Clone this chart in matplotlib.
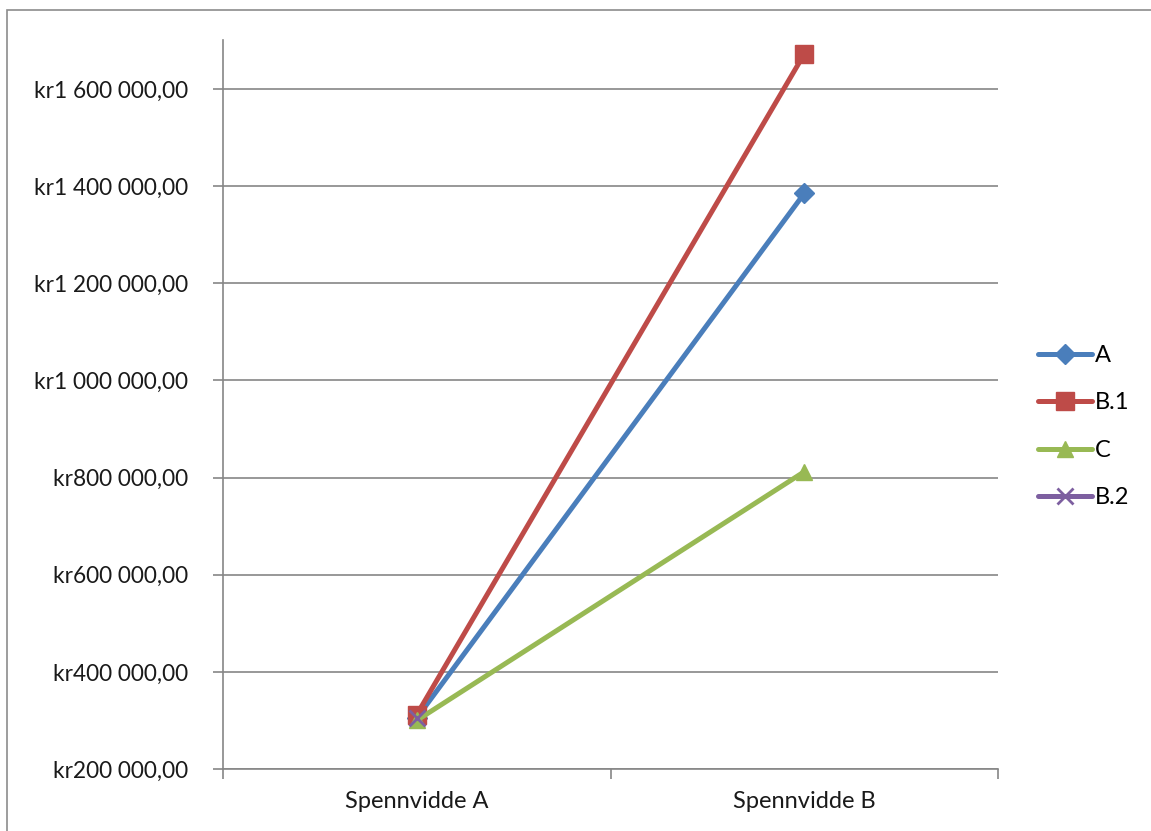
import matplotlib
matplotlib.use("Agg")
import matplotlib.pyplot as plt
from matplotlib.patches import Rectangle
import numpy as np

categories = ["Spennvidde A", "Spennvidde B"]
series_names = ["A", "B.1", "C", "B.2"]
vals_A = [305000, 1385000]
vals_B1 = [312000, 1672000]
vals_C = [300000, 812000]
vals_B2 = [306000, np.nan]
colors = ["#4A7EBB", "#BE4B48", "#98B954", "#7D5FA0"]
markers = ["D", "s", "^", "x"]
msizes = [10, 13, 12, 12]
yticks = [200000, 400000, 600000, 800000, 1000000, 1200000, 1400000, 1600000]

def fmt(v):
    s = f"{int(v):,}".replace(",", " ")
    return f"kr{s},00"

plt.rcParams['font.family'] = ['Lato', 'DejaVu Sans']
fig = plt.figure(figsize=(11.51, 8.31), dpi=100)
fig.patches.append(Rectangle((7/1151, -0.1), 1.2, 1 - 10/831 + 0.1, transform=fig.transFigure,
                             fill=False, edgecolor="#8C8C8C", linewidth=1.2))
ax = fig.add_axes([223/1151, 1 - 769/831, (998 - 223)/1151, (769 - 40.4)/831])

x = np.array([0.5, 1.5])
for name, vals, c, m, ms in zip(series_names, [vals_A, vals_B1, vals_C, vals_B2], colors, markers, msizes):
    mew = 2 if m == "x" else 1
    ax.plot(x, vals, color=c, lw=3.6, marker=m, markersize=ms, markeredgewidth=mew,
            markeredgecolor=c, markerfacecolor=c, label=name, solid_capstyle="round")

ax.set_xlim(0, 2)
ax.set_ylim(200000, 1700000)
ax.set_yticks(yticks)
ax.set_yticklabels([fmt(v) for v in yticks], fontsize=16.3, color="#1a1a1a")
ax.set_xticks([0.5, 1.5])
ax.set_xticklabels(categories, fontsize=17, color="#1a1a1a")
ax.set_xticks([0, 1, 2], minor=True)
ax.tick_params(axis="x", which="major", length=0, pad=16)
ax.tick_params(axis="x", which="minor", length=7, color="#868686", width=1.2)
ax.tick_params(axis="y", length=7, color="#868686", width=1.2, pad=18)
ax.grid(axis="y", color="#868686", lw=1.2)
ax.set_axisbelow(True)
for s in ["top", "right"]:
    ax.spines[s].set_visible(False)
for s in ["left", "bottom"]:
    ax.spines[s].set_color("#868686")
    ax.spines[s].set_linewidth(1.2)

leg = ax.legend(loc="center left", bbox_to_anchor=(1.024, 0.47), frameon=False, fontsize=17,
                handlelength=2.3, labelspacing=1.12, handletextpad=0.1)
fig.savefig("out.png", dpi=100)
